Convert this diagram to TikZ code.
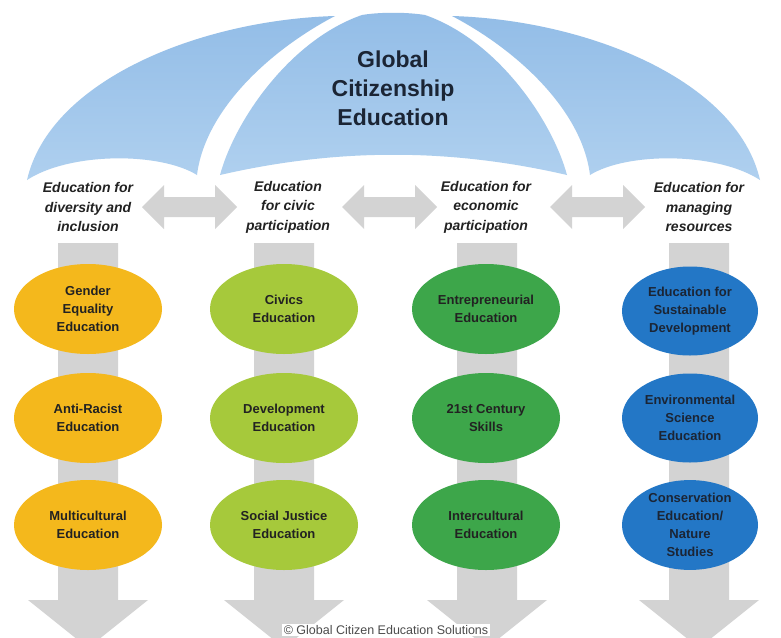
\documentclass[tikz,border=0pt]{standalone}
\usepackage{fontspec}
\setmainfont{Liberation Sans}
\usetikzlibrary{shapes.geometric}
\definecolor{petaltop}{HTML}{93BDE7}
\definecolor{petalbot}{HTML}{AFD0EF}
\definecolor{arrgray}{HTML}{D3D3D3}
\definecolor{cOrange}{HTML}{F4B81C}
\definecolor{cLime}{HTML}{A6C93B}
\definecolor{cGreen}{HTML}{3DA64A}
\definecolor{cBlue}{HTML}{2377C6}
\definecolor{titlec}{HTML}{1B2535}
\definecolor{txtc}{HTML}{222222}
\tikzset{
  petal/.style={top color=petaltop, bottom color=petalbot, draw=none},
  grayarr/.style={fill=arrgray, draw=none},
  hdr/.style={align=center, text=txtc, font=\fontsize{14}{19.5}\selectfont\bfseries\itshape, inner sep=0pt},
  ell/.style={ellipse, minimum width=148pt, minimum height=90pt, inner sep=0pt, align=center, text=txtc,
    font=\fontsize{13}{18}\selectfont\bfseries},
  bell/.style={ell, fill=cBlue, text=titlec, minimum width=136pt, minimum height=89pt},
}
\begin{document}
\begin{tikzpicture}[x=1pt,y=-1pt]
\useasboundingbox (0,0) rectangle (781,637);
\clip (0,0) rectangle (781,637);
\fill[white] (0,0) rectangle (781,637);

% dome petals
\path[petal] (27,180) .. controls (50,80) and (200,20) .. (335,16)
  .. controls (270,50) and (205,110) .. (197,175)
  .. controls (160,152) and (70,152) .. (27,180) -- cycle;
\path[petal] (220,175) .. controls (235,120) and (290,40) .. (362,15)
  .. controls (380,12) and (406,12) .. (425,15)
  .. controls (497,40) and (552,120) .. (567,175)
  .. controls (450,148) and (337,148) .. (220,175) -- cycle;
\path[petal] (760,180) .. controls (737,80) and (587,20) .. (452,16)
  .. controls (517,50) and (582,110) .. (590,175)
  .. controls (627,152) and (717,152) .. (760,180) -- cycle;

\node[align=center, text=titlec, font=\fontsize{23}{29}\selectfont\bfseries] (title) at (393,88)
  {Global\\Citizenship\\Education};

% column headers
\node[hdr] (h1) at (88,207) {Education for\\diversity and\\inclusion};
\node[hdr] (h2) at (288,207) {Education\\for civic\\participation};
\node[hdr] (h3) at (486,207) {Education for\\economic\\participation};
\node[hdr] (h4) at (699,207) {Education for\\managing\\resources};

% horizontal double arrows
\foreach \xa/\xb in {142/237, 342/437, 550/645}{
  \fill[grayarr] (\xa,207) -- (\xa+22,185) -- (\xa+22,197) -- (\xb-22,197) -- (\xb-22,185)
    -- (\xb,207) -- (\xb-22,229) -- (\xb-22,217) -- (\xa+22,217) -- (\xa+22,229) -- cycle;
}

% vertical arrows
\foreach \cx in {88,284,487,699}{
  \fill[grayarr] (\cx-30,243) -- (\cx+30,243) -- (\cx+30,600) -- (\cx+60,600) -- (\cx,648)
    -- (\cx-60,600) -- (\cx-30,600) -- cycle;
}

% ellipses
\node[ell, fill=cOrange] (e11) at (88,309) {Gender\\Equality\\Education};
\node[ell, fill=cOrange] (e12) at (88,418) {Anti-Racist\\Education};
\node[ell, fill=cOrange] (e13) at (88,525) {Multicultural\\Education};

\node[ell, fill=cLime] (e21) at (284,309) {Civics\\Education};
\node[ell, fill=cLime] (e22) at (284,418) {Development\\Education};
\node[ell, fill=cLime] (e23) at (284,525) {Social Justice\\Education};

\node[ell, fill=cGreen] (e31) at (486,309) {Entrepreneurial\\Education};
\node[ell, fill=cGreen] (e32) at (486,418) {21st Century\\Skills};
\node[ell, fill=cGreen] (e33) at (486,525) {Intercultural\\Education};

\node[bell] (e41) at (690,311) {Education for\\Sustainable\\Development};
\node[bell] (e42) at (690,418) {Environmental\\Science\\Education};
\node[bell] (e43) at (690,525) {Conservation\\Education/\\Nature\\Studies};

% footer
\node[fill=white, inner sep=1.5pt, text=black!70, font=\fontsize{12.5}{14}\selectfont] (foot) at (386,630)
  {© Global Citizen Education Solutions};
\end{tikzpicture}
\end{document}
